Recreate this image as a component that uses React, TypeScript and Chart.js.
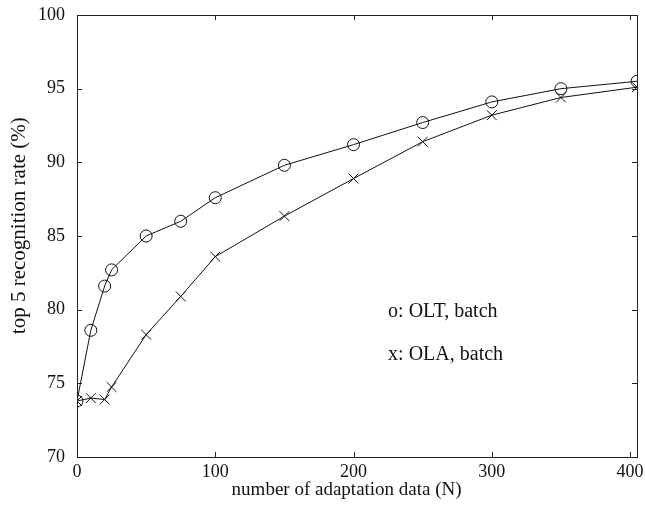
import React, { useEffect, useRef } from "react";
import { Chart, registerables } from "chart.js";

Chart.register(...registerables);

const nValues = [0, 10, 20, 25, 50, 75, 100, 150, 200, 250, 300, 350, 405];
const oltBatch = [73.8, 78.6, 81.6, 82.7, 85.0, 86.0, 87.6, 89.8, 91.2, 92.7, 94.1, 95.0, 95.5];
const olaBatch = [73.8, 74.0, 73.9, 74.75, 78.3, 80.9, 83.6, 86.35, 88.9, 91.4, 93.2, 94.4, 95.1];
const xTicks = [0, 100, 200, 300, 400];
const yTicks = [70, 75, 80, 85, 90, 95, 100];
const legendLines = ["o: OLT, batch", "x: OLA, batch"];
const xTitle = "number of adaptation data (N)";
const yTitle = "top 5 recognition rate (%)";

const FONT = "'Liberation Serif', 'Times New Roman', serif";

const framePlugin = {
  id: "frameAndTicks",
  afterDraw(chart: any) {
    const ctx = chart.ctx;
    const { left, right, top, bottom } = chart.chartArea;
    const xs = chart.scales.x;
    const ys = chart.scales.y;
    ctx.save();
    ctx.strokeStyle = "#222";
    ctx.lineWidth = 1;
    ctx.strokeRect(left + 0.5, top + 0.5, right - left, bottom - top);
    const len = 5;
    ctx.beginPath();
    xTicks.forEach((v) => {
      const px = Math.round(xs.getPixelForValue(v)) + 0.5;
      ctx.moveTo(px, bottom);
      ctx.lineTo(px, bottom - len);
      ctx.moveTo(px, top);
      ctx.lineTo(px, top + len);
    });
    yTicks.forEach((v) => {
      const py = Math.round(ys.getPixelForValue(v)) + 0.5;
      ctx.moveTo(left, py);
      ctx.lineTo(left + len, py);
      ctx.moveTo(right, py);
      ctx.lineTo(right - len, py);
    });
    ctx.stroke();
    ctx.fillStyle = "#111";
    // legend text
    ctx.font = `20px ${FONT}`;
    ctx.textBaseline = "alphabetic";
    ctx.textAlign = "left";
    const lx = xs.getPixelForValue(225);
    ctx.fillText(legendLines[0], lx, ys.getPixelForValue(79.5));
    ctx.fillText(legendLines[1], lx, ys.getPixelForValue(76.6));
    // x axis title
    ctx.font = `19px ${FONT}`;
    ctx.textAlign = "center";
    ctx.fillText(xTitle, xs.getPixelForValue(195), bottom + 38);
    // y axis title
    ctx.font = `21px ${FONT}`;
    ctx.translate(left - 58, ys.getPixelForValue(85.7));
    ctx.rotate(-Math.PI / 2);
    ctx.textBaseline = "middle";
    ctx.fillText(yTitle, 0, 0);
    ctx.restore();
  },
};

export default function App() {
  const ref = useRef<HTMLCanvasElement | null>(null);
  useEffect(() => {
    document.body.style.margin = "0";
    const canvas = ref.current;
    if (!canvas) return;
    const chart = new Chart(canvas, {
      type: "line",
      data: {
        datasets: [
          {
            label: "OLT, batch",
            data: nValues.map((x, i) => ({ x, y: oltBatch[i] })),
            borderColor: "#111",
            borderWidth: 1,
            pointStyle: "circle",
            pointRadius: 6,
            pointBorderColor: "#111",
            pointBackgroundColor: "rgba(0,0,0,0)",
            pointBorderWidth: 1,
            fill: false,
            tension: 0,
          },
          {
            label: "OLA, batch",
            data: nValues.map((x, i) => ({ x, y: olaBatch[i] })),
            borderColor: "#111",
            borderWidth: 1,
            pointStyle: "crossRot",
            pointRadius: 7,
            pointBorderColor: "#111",
            pointBorderWidth: 1,
            fill: false,
            tension: 0,
          },
        ],
      },
      options: {
        animation: false,
        responsive: true,
        maintainAspectRatio: false,
        layout: { padding: { top: 15, right: 8, left: 0, bottom: 0 } },
        plugins: { legend: { display: false }, tooltip: { enabled: false } },
        scales: {
          x: {
            type: "linear",
            min: 0,
            max: 405,
            afterBuildTicks: (s: any) => {
              s.ticks = xTicks.map((v) => ({ value: v }));
            },
            afterFit: (s: any) => {
              s.height = 51;
              s.paddingLeft = 0;
              s.paddingRight = 0;
            },
            grid: { display: false, drawTicks: false },
            border: { display: false },
            ticks: { color: "#111", font: { family: FONT, size: 18 }, padding: 4, maxRotation: 0 },
            title: { display: false, text: xTitle },
          },
          y: {
            type: "linear",
            min: 70,
            max: 100,
            afterBuildTicks: (s: any) => {
              s.ticks = yTicks.map((v) => ({ value: v }));
            },
            afterFit: (s: any) => {
              s.width = 77;
              s.paddingTop = 0;
              s.paddingBottom = 0;
            },
            grid: { display: false, drawTicks: false },
            border: { display: false },
            ticks: { color: "#111", font: { family: FONT, size: 18 }, padding: 12 },
            title: { display: false, text: yTitle },
          },
        },
      },
      plugins: [framePlugin],
    } as any);
    return () => chart.destroy();
  }, []);
  return (
    <div style={{ width: 645, height: 508, position: "relative", background: "#fff" }}>
      <canvas ref={ref} />
    </div>
  );
}
